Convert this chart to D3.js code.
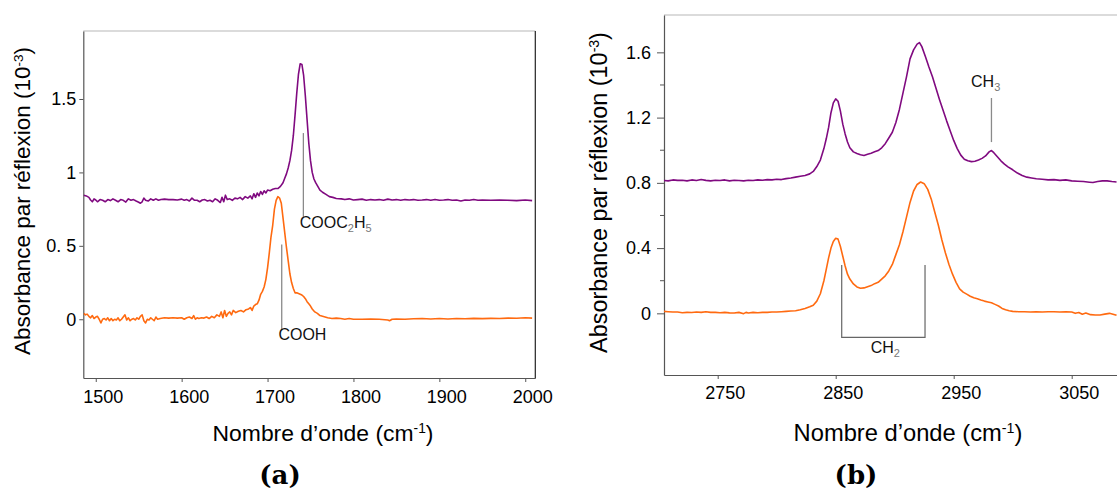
<!DOCTYPE html>
<html><head><meta charset="utf-8">
<script src="https://cdn.jsdelivr.net/npm/d3@7"></script>
<style>
html,body{margin:0;padding:0;background:#fff;}
svg{display:block;font-family:"Liberation Sans",Arial,sans-serif;}
</style></head>
<body>
<svg id="chart" width="1117" height="492"></svg>
<script>
// ---------- DATA ----------
// Panel (a): 1485–2012 cm-1, [wavenumber, absorbance ×10^-3]
const aEster = [[1486,0.845],[1489,0.84],[1492,0.83],[1494,0.812],[1496,0.80],[1498,0.82],[1500,0.812],[1502,0.80],[1505,0.815],[1508,0.81],[1511,0.80],[1514,0.815],[1517,0.808],[1520,0.82],[1523,0.81],[1526,0.80],[1529,0.815],[1532,0.81],[1535,0.798],[1538,0.82],[1541,0.81],[1544,0.815],[1547,0.805],[1550,0.797],[1552,0.79],[1554,0.80],[1556,0.825],[1558,0.81],[1561,0.805],[1564,0.82],[1567,0.81],[1570,0.82],[1573,0.81],[1576,0.815],[1580,0.818],[1585,0.815],[1590,0.815],[1595,0.812],[1600,0.818],[1603,0.81],[1606,0.815],[1609,0.805],[1612,0.825],[1615,0.81],[1618,0.81],[1621,0.80],[1624,0.812],[1627,0.815],[1630,0.805],[1633,0.81],[1636,0.80],[1639,0.82],[1642,0.81],[1645,0.795],[1647,0.83],[1649,0.80],[1651,0.845],[1653,0.815],[1656,0.82],[1659,0.81],[1662,0.825],[1665,0.82],[1668,0.83],[1671,0.815],[1674,0.835],[1677,0.825],[1680,0.84],[1682,0.82],[1684,0.855],[1686,0.83],[1688,0.86],[1690,0.84],[1692,0.87],[1694,0.85],[1696,0.875],[1698,0.86],[1700,0.88],[1703,0.875],[1706,0.885],[1709,0.89],[1712,0.89],[1715,0.905],[1718,0.93],[1720,0.96],[1722,0.99],[1724,1.03],[1726,1.08],[1728,1.15],[1730,1.25],[1732,1.39],[1734,1.54],[1736,1.67],[1738,1.74],[1740,1.735],[1742,1.66],[1744,1.52],[1746,1.36],[1748,1.20],[1750,1.08],[1752,1.00],[1754,0.955],[1756,0.93],[1758,0.91],[1761,0.88],[1764,0.865],[1768,0.85],[1772,0.835],[1776,0.83],[1780,0.822],[1786,0.82],[1790,0.815],[1795,0.82],[1800,0.812],[1805,0.815],[1810,0.818],[1815,0.81],[1820,0.815],[1825,0.812],[1830,0.815],[1835,0.81],[1840,0.818],[1845,0.812],[1850,0.815],[1855,0.81],[1860,0.815],[1865,0.812],[1870,0.815],[1875,0.81],[1880,0.812],[1885,0.815],[1890,0.81],[1895,0.815],[1900,0.81],[1905,0.812],[1910,0.815],[1915,0.81],[1920,0.812],[1925,0.805],[1930,0.812],[1935,0.81],[1940,0.815],[1945,0.81],[1950,0.812],[1960,0.81],[1970,0.812],[1980,0.81],[1990,0.808],[2000,0.812],[2008,0.808]];
const aAcid = [[1486,0.04],[1488,0.03],[1490,0.035],[1492,0.02],[1494,0.01],[1496,0.025],[1498,0.005],[1500,0.015],[1502,0.02],[1504,0.0],[1506,-0.025],[1508,0.0],[1510,0.005],[1512,-0.005],[1514,0.01],[1516,-0.01],[1518,0.005],[1520,-0.01],[1522,0.0],[1524,-0.005],[1526,0.01],[1528,-0.01],[1530,0.0],[1532,0.015],[1534,0.03],[1536,-0.005],[1538,0.01],[1540,-0.01],[1542,0.0],[1544,0.005],[1546,-0.005],[1548,0.01],[1550,0.0],[1552,0.02],[1554,0.03],[1556,-0.01],[1558,-0.025],[1560,0.0],[1562,-0.005],[1564,0.01],[1566,0.0],[1568,-0.01],[1570,0.015],[1572,0.0],[1575,0.005],[1580,0.01],[1585,0.008],[1590,0.01],[1595,0.008],[1600,0.01],[1603,0.0],[1606,0.01],[1609,0.015],[1612,0.005],[1614,0.025],[1616,0.0],[1618,0.01],[1620,0.005],[1623,0.01],[1626,0.008],[1629,0.015],[1632,0.005],[1635,0.02],[1638,0.01],[1641,0.03],[1644,0.02],[1646,0.05],[1648,0.01],[1650,0.06],[1652,0.02],[1654,0.04],[1656,0.05],[1658,0.03],[1660,0.06],[1663,0.045],[1666,0.055],[1669,0.06],[1672,0.05],[1675,0.065],[1678,0.07],[1680,0.08],[1682,0.06],[1684,0.09],[1686,0.1],[1688,0.105],[1690,0.13],[1692,0.17],[1694,0.19],[1696,0.22],[1698,0.27],[1700,0.35],[1702,0.45],[1704,0.56],[1706,0.64],[1708,0.75],[1710,0.81],[1712,0.835],[1714,0.825],[1716,0.79],[1718,0.69],[1720,0.59],[1722,0.49],[1724,0.40],[1726,0.31],[1728,0.25],[1730,0.21],[1732,0.18],[1734,0.18],[1736,0.175],[1738,0.17],[1740,0.165],[1742,0.155],[1744,0.14],[1746,0.12],[1748,0.105],[1750,0.09],[1752,0.07],[1755,0.05],[1758,0.04],[1761,0.025],[1764,0.02],[1767,0.015],[1770,0.01],[1775,0.005],[1780,0.008],[1785,0.005],[1790,0.0],[1795,0.005],[1800,0.0],[1810,0.0],[1820,0.002],[1830,0.0],[1840,-0.005],[1842,-0.01],[1845,0.0],[1850,0.002],[1860,0.0],[1870,0.003],[1880,0.005],[1890,0.002],[1900,0.005],[1910,0.002],[1920,0.005],[1930,0.003],[1940,0.006],[1950,0.004],[1960,0.006],[1970,0.005],[1980,0.008],[1990,0.007],[2000,0.01],[2008,0.008]];
// Panel (b): 2705–3088 cm-1
const bEster = [[2704,0.815],[2708,0.812],[2712,0.818],[2716,0.815],[2720,0.816],[2724,0.812],[2728,0.818],[2732,0.814],[2736,0.82],[2740,0.815],[2744,0.812],[2748,0.816],[2752,0.814],[2756,0.818],[2760,0.812],[2764,0.816],[2768,0.814],[2772,0.812],[2776,0.816],[2780,0.814],[2784,0.818],[2788,0.816],[2792,0.82],[2796,0.818],[2800,0.822],[2804,0.82],[2808,0.826],[2812,0.83],[2816,0.835],[2820,0.84],[2824,0.845],[2828,0.855],[2831,0.87],[2834,0.9],[2837,0.94],[2840,1.01],[2842,1.07],[2844,1.14],[2846,1.23],[2848,1.29],[2850,1.315],[2852,1.3],[2854,1.24],[2856,1.16],[2858,1.10],[2860,1.05],[2862,1.015],[2865,0.99],[2868,0.98],[2871,0.972],[2874,0.968],[2877,0.975],[2880,0.982],[2883,0.99],[2886,0.998],[2889,1.015],[2892,1.04],[2895,1.075],[2898,1.11],[2901,1.17],[2904,1.25],[2907,1.35],[2910,1.45],[2913,1.56],[2916,1.615],[2919,1.65],[2921,1.66],[2923,1.635],[2926,1.575],[2929,1.51],[2932,1.45],[2935,1.38],[2938,1.31],[2941,1.245],[2944,1.18],[2947,1.12],[2950,1.06],[2953,1.01],[2956,0.97],[2959,0.945],[2962,0.935],[2965,0.93],[2968,0.932],[2971,0.94],[2974,0.95],[2977,0.965],[2980,0.99],[2982,0.998],[2984,0.985],[2987,0.96],[2990,0.935],[2993,0.915],[2996,0.898],[3000,0.88],[3004,0.86],[3008,0.845],[3012,0.835],[3016,0.83],[3020,0.825],[3025,0.822],[3030,0.818],[3035,0.82],[3040,0.815],[3045,0.818],[3050,0.812],[3055,0.81],[3060,0.808],[3065,0.804],[3068,0.802],[3072,0.808],[3076,0.812],[3080,0.812],[3084,0.808],[3088,0.805]];
const bAcid = [[2704,0.012],[2708,0.01],[2712,0.008],[2716,0.008],[2720,0.004],[2724,0.006],[2728,0.005],[2732,0.008],[2736,0.006],[2740,0.01],[2744,0.006],[2748,0.006],[2752,0.004],[2756,0.006],[2760,0.003],[2764,0.002],[2768,0.006],[2772,-0.002],[2774,0.006],[2776,0.002],[2780,0.006],[2784,0.004],[2788,0.006],[2792,0.006],[2796,0.008],[2800,0.008],[2804,0.01],[2808,0.012],[2812,0.014],[2816,0.016],[2820,0.022],[2824,0.03],[2828,0.04],[2831,0.05],[2834,0.075],[2837,0.12],[2840,0.2],[2842,0.27],[2844,0.34],[2846,0.40],[2848,0.44],[2850,0.46],[2852,0.455],[2854,0.41],[2856,0.35],[2858,0.29],[2860,0.24],[2862,0.21],[2865,0.18],[2868,0.162],[2871,0.154],[2874,0.156],[2877,0.163],[2880,0.17],[2883,0.182],[2886,0.19],[2889,0.21],[2892,0.23],[2895,0.26],[2898,0.3],[2901,0.36],[2904,0.42],[2907,0.5],[2910,0.59],[2913,0.68],[2916,0.75],[2919,0.79],[2922,0.805],[2925,0.795],[2928,0.76],[2931,0.7],[2934,0.62],[2937,0.54],[2940,0.45],[2943,0.37],[2946,0.30],[2949,0.24],[2952,0.19],[2955,0.15],[2958,0.13],[2961,0.118],[2964,0.105],[2967,0.095],[2970,0.09],[2973,0.082],[2976,0.075],[2979,0.07],[2982,0.065],[2985,0.055],[2988,0.045],[2991,0.03],[2994,0.022],[2997,0.016],[3000,0.012],[3005,0.01],[3010,0.01],[3015,0.008],[3020,0.01],[3025,0.008],[3030,0.01],[3035,0.01],[3040,0.008],[3045,0.01],[3050,0.008],[3053,0.0],[3056,0.005],[3059,-0.005],[3062,0.002],[3066,-0.008],[3070,-0.01],[3074,-0.01],[3078,-0.005],[3082,0.0],[3085,-0.005],[3088,-0.012]];

const aXTicks = [1500,1600,1700,1800,1900,2000];
const aYTicks = [0,0.5,1,1.5];
const aYTickLabels = ["0","0. 5","1","1.5"];
const bXTicks = [2750,2850,2950,3050];
const bYTicks = [0,0.4,0.8,1.2,1.6];
const bYMinorTicks = [0.2,0.6,1.0,1.4];

const yTitle = "Absorbance par réflexion (10";
const yTitleSup = "-3";
const xTitle = "Nombre d’onde (cm";
const xTitleSup = "-1";

// annotations: [x (cm-1), yTop, yBottom] for the leader, label anchor [x, y]
const aAnnot = [
  {line:[1741.7,1.268,0.697], text:[1737.5,0.592], parts:[["COOC",0],["2",1],["H",0],["5",1]]},
  {line:[1716.5,0.509,-0.075], text:[1712.6,-0.166], parts:[["COOH",0]]}
];
const bAnnotCH3 = {line:[2982,1.32,1.05], text:[2964.7,1.365], parts:[["CH",0],["3",1]]};
const bBracket = {x1:2855.1, x2:2925.7, top:0.296, bottom:-0.147, text:[2879.7,-0.266], parts:[["CH",0],["2",1]]};

// ---------- DRAW ----------
const svg = d3.select("#chart");
svg.append("rect").attr("width",1117).attr("height",492).attr("fill","#fff");
const PURPLE = "#800a80", ORANGE = "#ff6a10";

function measureFit(textSel, target){
  const len = textSel.node().getComputedTextLength();
  const fs = parseFloat(textSel.attr("font-size"));
  textSel.attr("font-size", fs*target/len);
}

function addTitle(g, str, sup, attrs, target){
  const t = g.append("text").attr("font-size",20).attr("fill","#000").attr("text-anchor","middle");
  for (const k in attrs) t.attr(k, attrs[k]);
  t.append("tspan").text(str);
  t.append("tspan").attr("font-size","0.6em").attr("dy","-0.55em").text(sup);
  t.append("tspan").attr("dy","0.33em").text(")");
  measureFit(t, target);
  return t;
}

function drawAnnotParts(g, x, y, parts){
  const t = g.append("text").attr("x",x).attr("y",y).attr("font-size",16).attr("fill","#111");
  parts.forEach(([s,sub])=>{
    if (sub) t.append("tspan").attr("font-size",11).attr("fill","#777").attr("dy",4).text(s);
    else t.append("tspan").attr("dy", t.selectAll("tspan").size() ? -4 : 0).text(s);
  });
}

function panel(o){
  const g = svg.append("g");
  const x = d3.scaleLinear(o.xDomain, o.xRange);
  const y = d3.scaleLinear(o.yDomain, o.yRange);
  const [x0,x1] = o.xRange, [y0,y1] = o.yRange; // y0 bottom, y1 top
  g.append("line").attr("x1",x0).attr("x2",x1).attr("y1",y1).attr("y2",y1).attr("stroke","#b8b8b8").attr("stroke-width",1.2);
  if (o.rightBorder) g.append("line").attr("x1",x1).attr("x2",x1).attr("y1",y1).attr("y2",y0).attr("stroke","#222").attr("stroke-width",1.2);
  const xa = g.append("g").attr("transform",`translate(0,${y0})`)
    .call(d3.axisBottom(x).tickValues(o.xTicks).tickSize(4).tickSizeOuter(0).tickFormat(d3.format("d")));
  xa.select(".domain").attr("stroke","#555").attr("stroke-width",1.2);
  xa.selectAll(".tick line").attr("stroke","#555");
  xa.selectAll(".tick text").attr("font-size",18).attr("fill","#000").attr("font-family","Liberation Sans, Arial, sans-serif")
    .attr("dx",7).attr("y",o.xLabelY);
  const ya = g.append("g").attr("transform",`translate(${x0},0)`)
    .call(d3.axisLeft(y).tickValues(o.yTicks).tickSize(o.yTickSize).tickSizeOuter(0)
      .tickFormat((d,i)=>o.yTickLabels[i]));
  ya.select(".domain").attr("stroke","#555").attr("stroke-width",1.2);
  ya.selectAll(".tick line").attr("stroke","#555");
  ya.selectAll(".tick text").attr("font-size",18).attr("fill","#000").attr("font-family","Liberation Sans, Arial, sans-serif")
    .attr("x",-o.yLabelGap).style("white-space","pre");
  if (o.yMinor){
    g.append("g").selectAll("line").data(o.yMinor).join("line")
      .attr("x1",x0-4).attr("x2",x0).attr("y1",d=>y(d)).attr("y2",d=>y(d)).attr("stroke","#555");
  }
  const clipId = "clip"+o.id;
  svg.append("clipPath").attr("id",clipId).append("rect")
    .attr("x",x0).attr("y",y1).attr("width",x1-x0).attr("height",y0-y1);
  const line = d3.line().x(d=>x(d[0])).y(d=>y(d[1]));
  const cg = g.append("g").attr("clip-path",`url(#${clipId})`);
  cg.append("path").datum(o.upper).attr("d",line).attr("fill","none").attr("stroke",PURPLE).attr("stroke-width",1.6).attr("stroke-linejoin","round");
  cg.append("path").datum(o.lower).attr("d",line).attr("fill","none").attr("stroke",ORANGE).attr("stroke-width",1.6).attr("stroke-linejoin","round");
  return {g,x,y};
}

// Panel (a)
const A = panel({id:"a", xDomain:[1485.5,2011.7], xRange:[83.3,535.3], yDomain:[-0.4,1.963], yRange:[378,31],
  xTicks:aXTicks, yTicks:aYTicks, yTickLabels:aYTickLabels, yTickSize:4, yLabelGap:7, xLabelY:12,
  upper:aEster, lower:aAcid, rightBorder:true});
aAnnot.forEach(a=>{
  A.g.append("line").attr("x1",A.x(a.line[0])).attr("x2",A.x(a.line[0]))
    .attr("y1",A.y(a.line[1])).attr("y2",A.y(a.line[2])).attr("stroke","#8a8a8a").attr("stroke-width",1.3);
  drawAnnotParts(A.g, A.x(a.text[0]), A.y(a.text[1]), a.parts);
});
addTitle(A.g, yTitle, yTitleSup, {transform:"translate(30,201) rotate(-90)"}, 308);
addTitle(A.g, xTitle, xTitleSup, {x:323, y:441}, 221);
A.g.append("text").attr("x",280).attr("y",484).attr("text-anchor","middle")
  .attr("font-family","DejaVu Serif, serif").attr("font-weight","bold").attr("font-size",26).text("(a)");

// Panel (b)
const B = panel({id:"b", xDomain:[2704.5,3095], xRange:[664,1124.8], yDomain:[-0.378,1.829], yRange:[375,15],
  xTicks:bXTicks, yTicks:bYTicks, yTickLabels:bYTicks.map(d=>d===0?"0":d3.format(".1f")(d)), yTickSize:7, yLabelGap:13, xLabelY:11,
  upper:bEster, lower:bAcid, rightBorder:false, yMinor:bYMinorTicks});
B.g.append("line").attr("x1",B.x(bAnnotCH3.line[0])).attr("x2",B.x(bAnnotCH3.line[0]))
  .attr("y1",B.y(bAnnotCH3.line[1])).attr("y2",B.y(bAnnotCH3.line[2])).attr("stroke","#8a8a8a").attr("stroke-width",1.3);
drawAnnotParts(B.g, B.x(bAnnotCH3.text[0]), B.y(bAnnotCH3.text[1]), bAnnotCH3.parts);
B.g.append("path").attr("d", d3.line()([
    [B.x(bBracket.x1),B.y(bBracket.top)],[B.x(bBracket.x1),B.y(bBracket.bottom)],
    [B.x(bBracket.x2),B.y(bBracket.bottom)],[B.x(bBracket.x2),B.y(bBracket.top)]]))
  .attr("fill","none").attr("stroke","#666").attr("stroke-width",1.2);
drawAnnotParts(B.g, B.x(bBracket.text[0]), B.y(bBracket.text[1]), bBracket.parts);
addTitle(B.g, yTitle, yTitleSup, {transform:"translate(607,192.5) rotate(-90)"}, 321);
addTitle(B.g, xTitle, xTitleSup, {x:908, y:441}, 229);
B.g.append("text").attr("x",856).attr("y",484).attr("text-anchor","middle")
  .attr("font-family","DejaVu Serif, serif").attr("font-weight","bold").attr("font-size",26).text("(b)");
</script>
</body></html>
